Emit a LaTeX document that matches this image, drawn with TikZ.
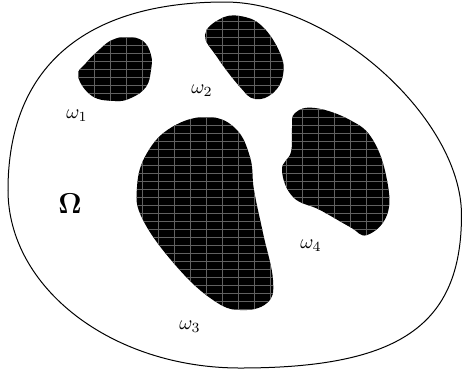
\documentclass[tikz,border=0pt]{standalone}
\tikzset{
  outline/.style={line width=0.5pt, black},
  gridline/.style={draw=black!62, line width=0.4pt},
  lbl/.style={inner sep=0pt}
}
\newcommand{\blobfill}[1]{%
  \begin{scope}
    \clip plot[smooth cycle, tension=0.7] coordinates {#1};
    \fill[black] (0,0) rectangle (462,372);
    \foreach \gx in {14.3,30.3,...,462} {\draw[gridline] (\gx,0) -- (\gx,372);}
    \foreach \gy in {5.3,13.3,...,372} {\draw[gridline] (0,\gy) -- (462,\gy);}
  \end{scope}}
\begin{document}
\begin{tikzpicture}[x=0.5pt, y=-0.5pt]
\useasboundingbox (0,0) rectangle (462,372);
% outer domain
\coordinate (L) at (8,190);
\coordinate (T) at (225,2);
\coordinate (R) at (461.5,215);
\coordinate (B) at (240,368);
\draw[outline] (L) .. controls (8,68) and (84,2) .. (T)
  .. controls (332,2) and (461.5,119) .. (R)
  .. controls (461.5,325) and (400,368) .. (B)
  .. controls (112,368) and (8,288) .. (L) -- cycle;
% omega_1
\blobfill{(78,76) (86,63) (100,49) (112,40) (127,37) (143,41) (151,55) (151,70) (146,87) (131,98) (115,101) (92,96)}
% omega_2
\blobfill{(205,35) (220,19) (240,16) (262,26) (280,53) (283,75) (273,93) (255,99) (240,87) (217,57)}
% omega_3
\blobfill{(207,117) (235,128) (250,157) (254,190) (263,233) (273,280) (267,303) (240,310) (213,300) (177,267) (143,220) (137,187) (147,153) (172,127)}
% omega_4
\blobfill{(295,113) (315,108) (350,120) (373,140) (387,180) (387,215) (367,235) (350,227) (320,210) (293,197) (282,170) (291,152) (292,128)}
% labels
\node[lbl] (w1) at (77,116) {$\omega_1$};
\node[lbl] (w2) at (202,91) {$\omega_2$};
\node[lbl] (w3) at (190,327) {$\omega_3$};
\node[lbl] (w4) at (311,246) {$\omega_4$};
\node[lbl] (Om) at (70,204) {\Large $\mathbf{\Omega}$};
\end{tikzpicture}
\end{document}
